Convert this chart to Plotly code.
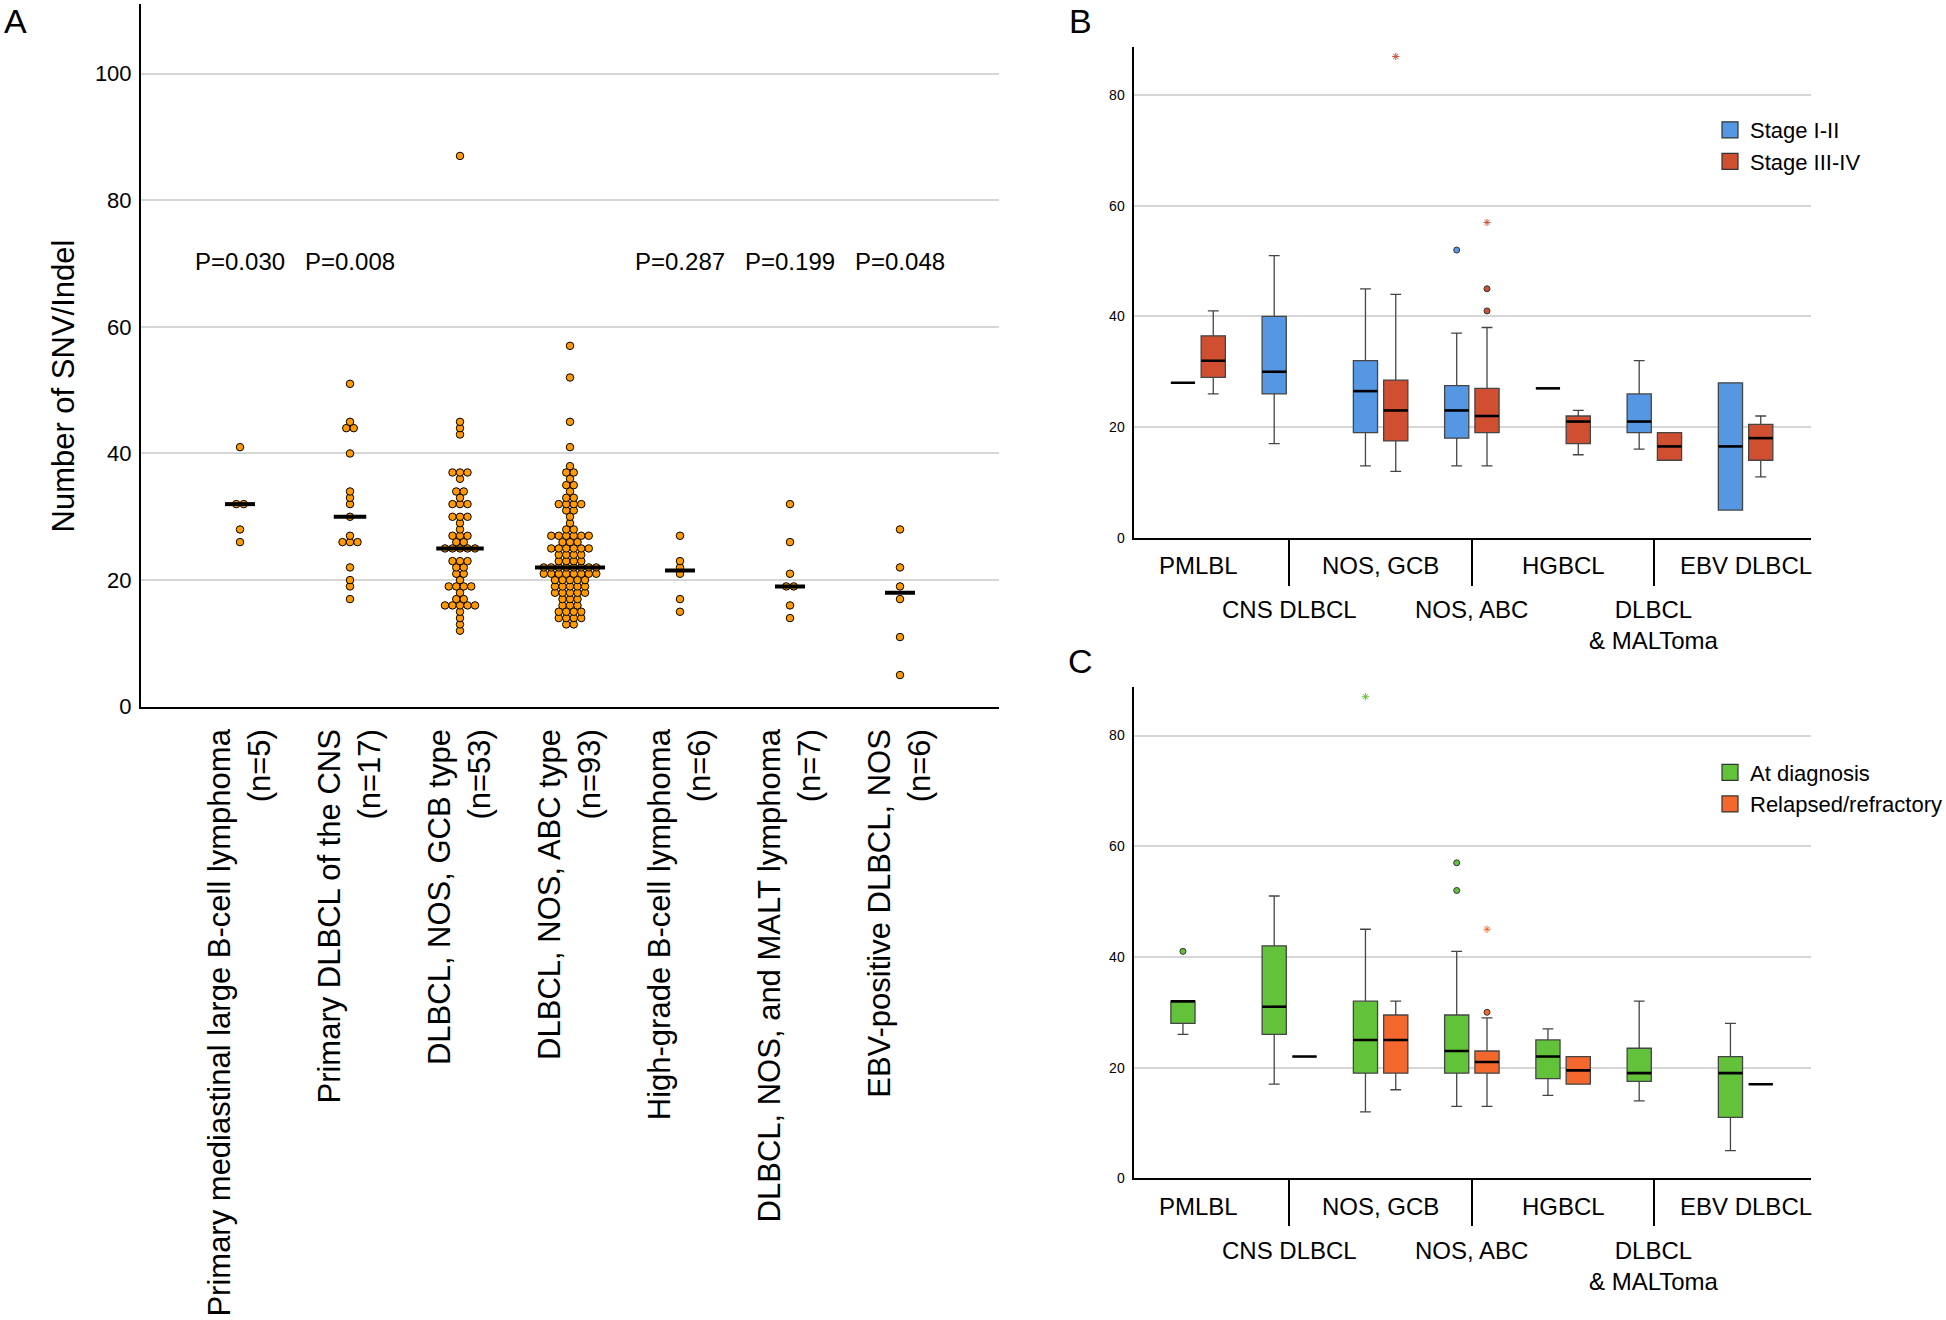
import numpy as np
import plotly.graph_objects as go

W, H = 1946, 1320
FONT = "Liberation Sans, Arial, sans-serif"

# ---------------- Panel A data ----------------
labels_a = [
    "Primary mediastinal large B-cell lymphoma<br>(n=5)",
    "Primary DLBCL of the CNS<br>(n=17)",
    "DLBCL, NOS, GCB type<br>(n=53)",
    "DLBCL, NOS, ABC type<br>(n=93)",
    "High-grade B-cell lymphoma<br>(n=6)",
    "DLBCL, NOS, and MALT lymphoma<br>(n=7)",
    "EBV-positive DLBCL, NOS<br>(n=6)",
]
vals_pmlbl = [41, 32, 32, 28, 26]
vals_cns = [51, 45, 44, 44, 40, 34, 33, 32, 30, 27, 26, 26, 26, 22, 20, 19, 17]
vals_gcb = ([87, 45, 44, 43] + [37] * 3 + [36] + [34] * 2 + [33] + [32] * 3 + [30] * 3 + [29, 28]
            + [27] * 3 + [26] * 2 + [25] * 5 + [23] * 3 + [22] * 2 + [21] * 2 + [20]
            + [19] * 4 + [18] + [17] * 2 + [16] * 5 + [15, 14, 13, 12])
vals_abc = ([57, 52, 45, 41, 38] + [37] * 2 + [36] + [35] * 2 + [34] + [33] * 2 + [32] * 4
            + [31] * 2 + [30, 29] + [28] * 2 + [27] * 6 + [26] * 3 + [25] * 6 + [24] * 4
            + [23] * 4 + [22] * 8 + [21] * 8 + [20] * 5 + [19] * 5 + [18] * 5 + [17] * 3
            + [16] * 3 + [15] * 4 + [14] * 4 + [13] * 2)
vals_hgbcl = [27, 23, 22, 21, 17, 15]
vals_malt = [32, 26, 21, 19, 19, 16, 14]
vals_ebv = [28, 22, 19, 17, 11, 5]
groups_a = [vals_pmlbl, vals_cns, vals_gcb, vals_abc, vals_hgbcl, vals_malt, vals_ebv]
p_pos = [0, 1, 4, 5, 6]
p_text = ["P=0.030", "P=0.008", "P=0.287", "P=0.199", "P=0.048"]
p_level = 70.4

# ---------------- Panels B / C data ----------------
cats_bc = ["PMLBL", "CNS DLBCL", "NOS, GCB", "NOS, ABC", "HGBCL", "DLBCL<br>& MALToma", "EBV DLBCL"]

# B: Stage I-II
b1_low = [28, 17, 13, 13, 27, 16, 5]
b1_q1 = [28, 26, 19, 18, 27, 19, 5]
b1_med = [28, 30, 26.5, 23, 27, 21, 16.5]
b1_q3 = [28, 40, 32, 27.5, 27, 26, 28]
b1_up = [28, 51, 45, 37, 27, 32, 28]
b1_out = [[], [], [], [52], [], [], []]
b1_ext = [[], [], [], [], [], [], []]
# B: Stage III-IV
b2_low = [26, None, 12, 13, 15, 14, 11]
b2_q1 = [29, None, 17.5, 19, 17, 14, 14]
b2_med = [32, None, 23, 22, 21, 16.5, 18]
b2_q3 = [36.5, None, 28.5, 27, 22, 19, 20.5]
b2_up = [41, None, 44, 38, 23, 19, 22]
b2_out = [[], [], [], [41, 45], [], [], []]
b2_ext = [[], [], [87], [57], [], [], []]
# C: At diagnosis
c1_low = [26, 17, 12, 13, 15, 14, 5]
c1_q1 = [28, 26, 19, 19, 18, 17.5, 11]
c1_med = [32, 31, 25, 23, 22, 19, 19]
c1_q3 = [32, 42, 32, 29.5, 25, 23.5, 22]
c1_up = [32, 51, 45, 41, 27, 32, 28]
c1_out = [[41], [], [], [52, 57], [], [], []]
c1_ext = [[], [], [87], [], [], [], []]
# C: Relapsed/refractory
c2_low = [None, 22, 16, 13, 17, None, 17]
c2_q1 = [None, 22, 19, 19, 17, None, 17]
c2_med = [None, 22, 25, 21, 19.5, None, 17]
c2_q3 = [None, 22, 29.5, 23, 22, None, 17]
c2_up = [None, 22, 32, 29, 22, None, 17]
c2_out = [[], [], [], [30], [], [], []]
c2_ext = [[], [], [], [45], [], [], []]

COL_BLUE, COL_RED = "#5597E3", "#D14F31"
COL_GREEN, COL_ORANGE = "#62C23A", "#F4682D"
DOT_COLOR = "#FF9A00"


def px_x(p):
    return p / W


def px_y(p):
    return 1 - p / H


fig = go.Figure()

# ---------------- Panel A: beeswarm ----------------
CAT_PX_A = 110.0
DOT_STEP = 7.5 / CAT_PX_A
xs, ys, mx, my = [], [], [], []
for gi, vals in enumerate(groups_a):
    uniq, counts = np.unique(vals, return_counts=True)
    for v, n in zip(uniq, counts):
        for j in range(n):
            xs.append(gi + (j - (n - 1) / 2) * DOT_STEP)
            ys.append(float(v))
    half = max(15 / CAT_PX_A, counts.max() * DOT_STEP / 2 + 5 / CAT_PX_A)
    med = float(np.median(vals))
    mx += [gi - half, gi + half, None]
    my += [med, med, None]

fig.add_trace(go.Scatter(x=xs, y=ys, mode="markers", showlegend=False,
                         marker=dict(size=7.5, color=DOT_COLOR, line=dict(color="black", width=1)),
                         xaxis="x", yaxis="y"))
fig.add_trace(go.Scatter(x=mx, y=my, mode="lines", showlegend=False,
                         line=dict(color="black", width=4), xaxis="x", yaxis="y"))

# ---------------- Panels B / C: boxes ----------------
OFF = 0.166
BOXW = 0.265


def add_series(low, q1, med, q3, up, outs, exts, side, color, name, xa, ya, legend):
    idx = [i for i in range(len(cats_bc)) if med[i] is not None]
    pos = [i + side * OFF for i in idx]
    fig.add_trace(go.Box(
        x=pos, q1=[q1[i] for i in idx], median=[med[i] for i in idx], q3=[q3[i] for i in idx],
        lowerfence=[low[i] for i in idx], upperfence=[up[i] for i in idx],
        width=BOXW, whiskerwidth=0.45, fillcolor=color, boxpoints=False,
        line=dict(color="#454545", width=1.3), name=name, showlegend=False,
        xaxis=xa, yaxis=ya))
    # legend entry (square swatch)
    fig.add_trace(go.Scatter(x=[None], y=[None], mode="markers", name=name, legend=legend,
                             marker=dict(symbol="square", size=16, color=color,
                                         line=dict(color="#333333", width=1.2)),
                             xaxis=xa, yaxis=ya))
    # medians
    lx, ly = [], []
    for i, p in zip(idx, pos):
        lx += [p - BOXW / 2, p + BOXW / 2, None]
        ly += [med[i], med[i], None]
    fig.add_trace(go.Scatter(x=lx, y=ly, mode="lines", line=dict(color="black", width=2.6),
                             showlegend=False, xaxis=xa, yaxis=ya, hoverinfo="skip"))
    ox, oy = [], []
    for i in range(len(cats_bc)):
        for v in outs[i]:
            ox.append(i + side * OFF)
            oy.append(v)
    if ox:
        fig.add_trace(go.Scatter(x=ox, y=oy, mode="markers", showlegend=False,
                                 marker=dict(symbol="circle", size=6, color=color,
                                             line=dict(color="#333333", width=1)),
                                 xaxis=xa, yaxis=ya))
    ex, ey = [], []
    for i in range(len(cats_bc)):
        for v in exts[i]:
            ex.append(i + side * OFF)
            ey.append(v)
    if ex:
        fig.add_trace(go.Scatter(x=ex, y=ey, mode="markers", showlegend=False,
                                 marker=dict(symbol="asterisk-open", size=6, color=color,
                                             line=dict(color=color, width=1)),
                                 xaxis=xa, yaxis=ya))


add_series(b1_low, b1_q1, b1_med, b1_q3, b1_up, b1_out, b1_ext, -1, COL_BLUE, "Stage I-II", "x2", "y2", "legend")
add_series(b2_low, b2_q1, b2_med, b2_q3, b2_up, b2_out, b2_ext, 1, COL_RED, "Stage III-IV", "x2", "y2", "legend")
add_series(c1_low, c1_q1, c1_med, c1_q3, c1_up, c1_out, c1_ext, -1, COL_GREEN, "At diagnosis", "x3", "y3", "legend2")
add_series(c2_low, c2_q1, c2_med, c2_q3, c2_up, c2_out, c2_ext, 1, COL_ORANGE, "Relapsed/refractory", "x3", "y3", "legend2")

# ---------------- Layout ----------------
GRID = "#d6d6d6"
ax_a_x = dict(domain=[px_x(141), px_x(999)], range=[-0.9, 6.9], anchor="y", automargin=False,
              showline=True, linecolor="black", linewidth=2, showgrid=False, zeroline=False,
              tickmode="array", tickvals=list(range(7)), ticktext=labels_a, tickangle=-90,
              tickfont=dict(size=31, color="black"), ticks="", ticklabelstandoff=8)
ax_a_y = dict(domain=[px_y(706.7), px_y(4)], range=[0, 111], anchor="x", automargin=False,
              showline=True, linecolor="black", linewidth=2, showgrid=True, gridcolor=GRID,
              gridwidth=1.5, zeroline=False, tickmode="array", tickvals=[0, 20, 40, 60, 80, 100],
              tickfont=dict(size=22, color="black"), ticks="", ticklabelstandoff=3)

bc_x_common = dict(range=[-0.708, 6.72], showline=True, linecolor="black", linewidth=2,
                   showgrid=False, zeroline=False, tickmode="array", tickvals=[1, 3, 5],
                   showticklabels=False, ticks="outside", ticklen=46, tickwidth=2, tickcolor="black",
                   domain=[px_x(1133.5), px_x(1811.3)], automargin=False)
bc_y_common = dict(range=[0, 88.8], showline=True, linecolor="black", linewidth=2,
                   showgrid=True, gridcolor=GRID, gridwidth=1.5, zeroline=False, automargin=False,
                   tickmode="array", tickvals=[0, 20, 40, 60, 80],
                   tickfont=dict(size=14, color="black"), ticks="", ticklabelstandoff=4)

fig.update_layout(
    width=W, height=H, margin=dict(l=0, r=0, t=0, b=0, autoexpand=False),
    paper_bgcolor="white", plot_bgcolor="white",
    font=dict(family=FONT, color="black"),
    xaxis=ax_a_x, yaxis=ax_a_y,
    xaxis2=dict(bc_x_common, anchor="y2"),
    yaxis2=dict(bc_y_common, anchor="x2", domain=[px_y(537.7), px_y(46.5)]),
    xaxis3=dict(bc_x_common, anchor="y3"),
    yaxis3=dict(bc_y_common, anchor="x3", domain=[px_y(1178.3), px_y(686.8)]),
    legend=dict(x=px_x(1710), y=px_y(109), xanchor="left", yanchor="top",
                font=dict(size=22, color="black"), bgcolor="rgba(0,0,0,0)", tracegroupgap=0),
    legend2=dict(x=px_x(1710), y=px_y(751.5), xanchor="left", yanchor="top",
                 font=dict(size=22, color="black"), bgcolor="rgba(0,0,0,0)", tracegroupgap=0),
    boxmode="overlay",
)

ann = []
# P values
for p, t in zip(p_pos, p_text):
    ann.append(dict(x=p, y=p_level, xref="x", yref="y", text=t, showarrow=False,
                    xanchor="center", yanchor="middle", font=dict(size=24, color="black")))
# y-axis title of panel A
ann.append(dict(x=px_x(62.5), y=px_y(386), xref="paper", yref="paper", text="Number of SNV/Indel",
                textangle=-90, showarrow=False, xanchor="center", yanchor="middle",
                font=dict(size=31, color="black")))
# panel letters
for letter, lx_px, ly_px in (("A", 15.5, 21), ("B", 1080, 21), ("C", 1080, 661)):
    ann.append(dict(x=px_x(lx_px), y=px_y(ly_px), xref="paper", yref="paper", text=letter,
                    xanchor="center", yanchor="middle", showarrow=False,
                    font=dict(size=34, color="black")))
# staggered category labels of panels B and C
for xa, axis_px in (("x2", 537.7), ("x3", 1178.3)):
    for i, c in enumerate(cats_bc):
        top = axis_px + (12.5 if i % 2 == 0 else 56.7)
        ann.append(dict(x=i, y=px_y(top), xref=xa, yref="paper", text=c, showarrow=False,
                        xanchor="center", yanchor="top", font=dict(size=24, color="black")))
fig.update_layout(annotations=ann)

fig.write_html("out.html", config={"displayModeBar": False},
               post_script="document.body.style.margin='0px';")
